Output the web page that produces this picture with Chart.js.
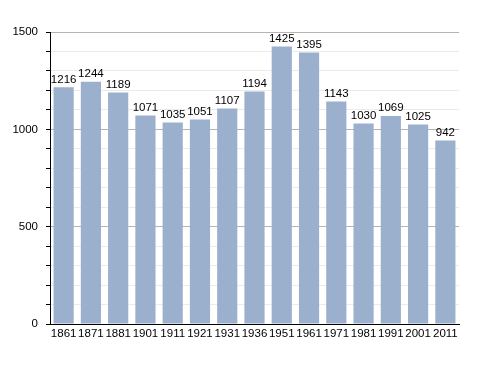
<!DOCTYPE html>
<html>
<head>
<meta charset="utf-8">
<script src="https://cdn.jsdelivr.net/npm/chart.js@4/dist/chart.umd.min.js"></script>
<style>
  html, body { margin: 0; padding: 0; background: #fff; }
  #wrap { position: relative; width: 488px; height: 373px; }
</style>
</head>
<body>
<div id="wrap"><canvas id="chart"></canvas></div>
<script>
const years = ["1861", "1871", "1881", "1901", "1911", "1921", "1931", "1936",
  "1951", "1961", "1971", "1981", "1991", "2001", "2011"];
const population = [1216, 1244, 1189, 1071, 1035, 1051, 1107, 1194,
  1425, 1395, 1143, 1030, 1069, 1025, 942];
const yLabels = [0, 500, 1000, 1500];

const FONT = "'Liberation Sans Narrow', 'Liberation Sans', Arial, sans-serif";

// value labels above each bar
const barLabels = {
  id: "barLabels",
  afterDatasetsDraw(chart) {
    const ctx = chart.ctx;
    const meta = chart.getDatasetMeta(0);
    ctx.save();
    ctx.font = "11.5px " + FONT;
    ctx.fillStyle = "#000";
    ctx.textAlign = "center";
    ctx.textBaseline = "bottom";
    meta.data.forEach((bar, i) => {
      ctx.fillText(String(population[i]), bar.x, bar.y - 2);
    });
    ctx.restore();
  },
};

new Chart(document.getElementById("chart").getContext("2d"), {
  type: "bar",
  data: {
    labels: years,
    datasets: [{
      data: population,
      backgroundColor: "#9bb0cc",
      barPercentage: 0.74,
      categoryPercentage: 1,
    }],
  },
  options: {
    responsive: true,
    maintainAspectRatio: false,
    animation: false,
    layout: { padding: { top: 32, right: 29, left: 0, bottom: 0 } },
    plugins: { legend: { display: false }, tooltip: { enabled: false } },
    scales: {
      x: {
        grid: { display: false, drawTicks: false },
        border: { color: "#000", width: 1 },
        ticks: {
          color: "#000", font: { family: FONT, size: 11.5 }, padding: 3,
          maxRotation: 0, autoSkip: false,
        },
        afterFit: (scale) => { scale.height = 49; },
      },
      y: {
        min: 0,
        max: 1500,
        border: { color: "#000", width: 1 },
        grid: {
          color: (c) => (c.tick && c.tick.value % 500 === 0 ? "#b4b4b4" : "#ebebeb"),
          tickColor: "#000",
          tickLength: 4,
        },
        ticks: {
          stepSize: 100,
          color: "#000",
          font: { family: FONT, size: 11.5 },
          padding: 8,
          callback: (v) => (yLabels.includes(v) ? String(v) : ""),
        },
        afterFit: (scale) => { scale.width = 50; },
      },
    },
  },
  plugins: [barLabels],
});
</script>
</body>
</html>
